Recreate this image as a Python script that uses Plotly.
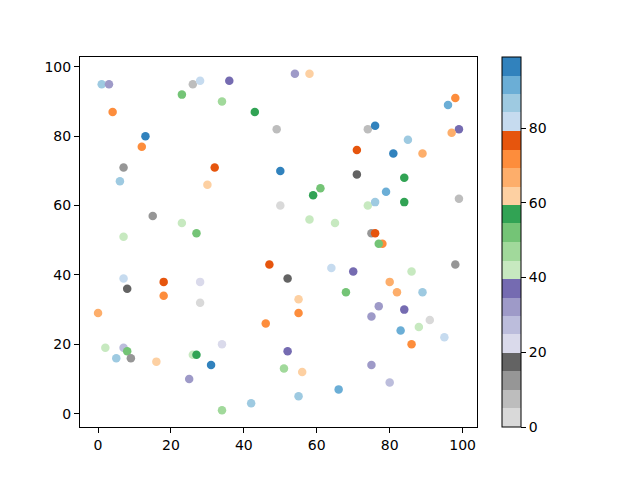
import plotly.graph_objects as go

# scatter points: x, y, colour value
xs = [0, 1, 3, 4, 13, 12, 7, 6, 23, 26, 28, 34, 36, 43, 54, 58, 49, 32, 50, 30,
      61, 59, 50, 58, 65, 47, 64, 52, 55, 68, 99, 98, 96, 74, 76, 97, 85, 71, 81, 89,
      71, 84, 84, 79, 74, 76, 99, 75, 76, 78, 77, 98, 70, 86, 80, 82, 89, 77, 84, 75,
      91, 88, 83, 95, 86, 75, 80, 66, 55, 46, 34, 52, 31, 51, 56, 55, 42, 34, 18, 28,
      2, 7, 8, 5, 9, 16, 26, 27, 25, 15, 23, 27, 7, 7, 8, 18, 28]
ys = [29, 95, 95, 87, 80, 77, 71, 67, 92, 95, 96, 90, 96, 87, 98, 98, 82, 71, 70, 66,
      65, 63, 60, 56, 55, 43, 42, 39, 33, 35, 82, 91, 89, 82, 83, 81, 79, 76, 75, 75,
      69, 68, 61, 64, 60, 61, 62, 52, 52, 49, 49, 43, 41, 41, 38, 35, 35, 31, 30, 28,
      27, 25, 24, 22, 20, 14, 9, 7, 29, 26, 20, 18, 14, 13, 12, 5, 3, 1, 34, 32,
      19, 19, 18, 16, 16, 15, 17, 17, 10, 57, 55, 52, 51, 39, 36, 38, 38]
cs = [67, 87, 32, 72, 97, 72, 12, 87, 52, 7, 82, 47, 37, 57, 32, 62, 7, 77, 97, 62,
      52, 57, 2, 42, 42, 77, 82, 17, 62, 52, 37, 72, 92, 7, 97, 67, 87, 77, 97, 67,
      17, 57, 57, 92, 42, 87, 7, 12, 77, 72, 52, 12, 37, 42, 67, 67, 87, 32, 37, 32,
      2, 42, 92, 82, 72, 32, 27, 92, 72, 72, 22, 37, 97, 47, 62, 87, 87, 47, 72, 2,
      42, 27, 52, 87, 12, 62, 42, 57, 32, 12, 42, 52, 42, 82, 17, 77, 22]

palette = ["#d9d9d9", "#bdbdbd", "#969696", "#636363",
           "#dadaeb", "#bcbddc", "#9e9ac8", "#756bb1",
           "#c7e9c0", "#a1d99b", "#74c476", "#31a354",
           "#fdd0a2", "#fdae6b", "#fd8d3c", "#e6550d",
           "#c6dbef", "#9ecae1", "#6baed6", "#3182bd"]
n = len(palette)
colorscale = []
for i, col in enumerate(palette):
    colorscale.append([i / n, col])
    colorscale.append([(i + 1) / n, col])

# page body has an 8px margin, so shift everything up-left by 8px
W, H = 640, 480
L, R, T, B = 72, 171, 49, 61
plot_w = W - L - R

fig = go.Figure(go.Scatter(
    x=xs, y=ys, mode="markers",
    marker=dict(
        size=8.5, color=cs, colorscale=colorscale, cmin=0, cmax=99,
        line=dict(width=0),
        colorbar=dict(
            x=(494 - L) / plot_w, xanchor="left", xpad=0,
            y=0.5, yanchor="middle", ypad=0, len=1, lenmode="fraction",
            thickness=19, outlinewidth=1, outlinecolor="black",
            tickvals=[0, 20, 40, 60, 80], ticks="outside", ticklen=5,
            tickwidth=1, tickcolor="black",
            tickfont=dict(family="DejaVu Sans", size=14, color="black"),
        ),
    ),
    showlegend=False,
))

axis_common = dict(
    showline=True, mirror=True, linecolor="black", linewidth=1,
    ticks="outside", ticklen=5, tickwidth=1, tickcolor="black",
    showgrid=False, zeroline=False,
    tickfont=dict(family="DejaVu Sans", size=14, color="black"),
)
fig.update_xaxes(range=[-4.95, 103.95], tickvals=[0, 20, 40, 60, 80, 100], **axis_common)
fig.update_yaxes(range=[-3.85, 102.85], tickvals=[0, 20, 40, 60, 80, 100], **axis_common)

fig.update_layout(
    width=W, height=H,
    margin=dict(l=L, r=R, t=T, b=B),
    plot_bgcolor="white", paper_bgcolor="white",
    font=dict(family="DejaVu Sans", size=14, color="black"),
)

fig.write_html("out.html")
